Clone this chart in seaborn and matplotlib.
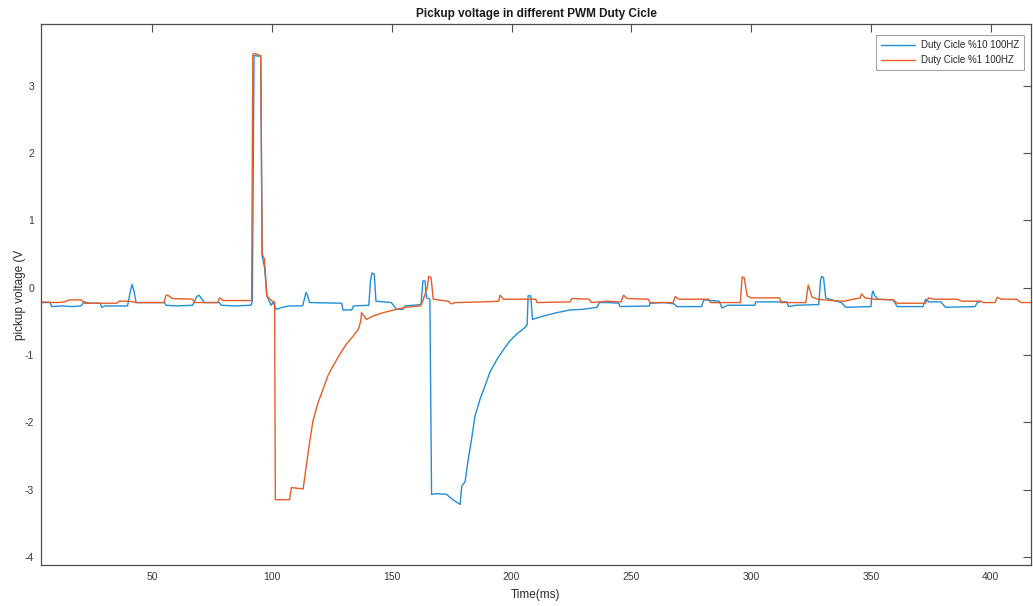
import numpy as np
import pandas as pd
import matplotlib
matplotlib.use("Agg")
import matplotlib.pyplot as plt
import seaborn as sns
from matplotlib.lines import Line2D

# ---------------- data ----------------
series_names = ["Duty Cicle %10 100HZ", "Duty Cicle %1 100HZ"]

blue_t = [3.6, 7.5, 8.0, 12.4, 16.4, 20.3, 21.6, 22.8, 24.3, 28.3, 28.9, 30.2, 39.7, 40.9,
          41.6, 42.4, 43.3, 55.1, 55.8, 59.9, 66.9, 68.6, 69.5, 70.4, 71.8, 78.1, 78.7, 84.6,
          91.3, 91.8, 92.5, 95.3, 95.9, 96.9, 97.9, 98.6, 99.6, 100.4, 101.8, 104.4, 107.3,
          112.8, 113.7, 114.2, 114.9, 115.7, 129.1, 129.6, 133.3, 134.0, 140.4, 141.1, 141.7,
          142.7, 143.4, 149.8, 151.1, 152.0, 154.7, 155.5, 162.2, 163.0, 163.9, 164.5, 165.9,
          166.6, 168.6, 172.8, 175.5, 178.5, 179.2, 180.6, 181.9, 183.3, 184.7, 186.8, 188.9,
          190.9, 193.8, 196.6, 199.3, 202.1, 205.6, 206.5, 206.9, 208.0, 208.7, 213.3, 218.9,
          224.4, 230.0, 235.6, 236.7, 240.7, 244.7, 245.3, 257.5, 257.8, 263.5, 267.9, 269.0,
          279.3, 280.2, 286.7, 287.8, 290.2, 301.5, 301.9, 314.9, 315.6, 318.8, 328.2, 328.9,
          329.4, 330.2, 331.1, 332.7, 337.6, 339.5, 350.0, 350.4, 350.8, 351.6, 352.9, 359.3,
          360.9, 371.7, 372.8, 374.2, 379.1, 381.1, 393.4, 394.7, 395.4]
blue_v = [-0.22, -0.22, -0.28, -0.27, -0.28, -0.27, -0.21, -0.22, -0.23, -0.23, -0.29, -0.27,
          -0.27, -0.05, 0.05, -0.05, -0.22, -0.22, -0.26, -0.27, -0.26, -0.13, -0.11, -0.15,
          -0.22, -0.22, -0.26, -0.27, -0.26, -0.20, 3.45, 3.44, 0.47, 0.30, -0.12, -0.18,
          -0.26, -0.22, -0.32, -0.29, -0.27, -0.27, -0.14, -0.07, -0.12, -0.22, -0.23, -0.33,
          -0.33, -0.27, -0.26, 0.10, 0.22, 0.20, -0.20, -0.22, -0.28, -0.32, -0.32, -0.27,
          -0.25, 0.10, 0.10, -0.15, -0.17, -3.07, -3.06, -3.07, -3.15, -3.22, -2.95, -2.88,
          -2.55, -2.25, -1.91, -1.66, -1.46, -1.26, -1.07, -0.92, -0.79, -0.69, -0.59, -0.55,
          -0.12, -0.12, -0.47, -0.42, -0.37, -0.33, -0.32, -0.29, -0.22, -0.22, -0.23, -0.28,
          -0.27, -0.23, -0.22, -0.24, -0.28, -0.28, -0.18, -0.20, -0.30, -0.26, -0.26, -0.21,
          -0.21, -0.28, -0.26, -0.25, 0.10, 0.17, 0.15, -0.15, -0.17, -0.22, -0.29, -0.28,
          -0.10, -0.05, -0.12, -0.17, -0.18, -0.28, -0.28, -0.17, -0.21, -0.21, -0.29, -0.28,
          -0.20, -0.22]

orange_t = [3.6, 10.5, 13.4, 15.4, 20.4, 21.8, 35.2, 36.2, 40.1, 42.1, 43.1, 54.9, 55.8, 56.9,
            58.4, 66.8, 67.8, 77.2, 78.2, 79.6, 91.5, 92.0, 92.8, 95.3, 95.9, 96.9, 97.8, 98.6,
            100.1, 101.1, 101.4, 107.3, 108.1, 113.0, 114.3, 115.7, 117.1, 119.2, 121.3, 123.3,
            125.5, 128.3, 131.0, 133.8, 136.0, 137.0, 137.4, 139.4, 142.2, 146.4, 152.0, 156.2,
            161.7, 162.5, 164.8, 165.4, 166.4, 167.3, 173.5, 174.9, 176.5, 188.4, 194.6, 195.2,
            196.6, 210.1, 210.6, 224.4, 225.1, 232.3, 233.4, 239.8, 245.7, 246.7, 248.2, 257.0,
            257.8, 267.4, 268.3, 269.9, 282.3, 283.0, 295.5, 296.2, 297.1, 298.3, 300.0, 311.9,
            312.4, 322.8, 323.8, 325.4, 327.7, 333.6, 338.6, 345.5, 346.1, 347.5, 351.4, 359.3,
            360.9, 372.7, 374.1, 376.1, 386.0, 388.0, 395.9, 396.9, 401.8, 402.7, 404.3, 410.7,
            412.6, 417.1]
orange_v = [-0.21, -0.22, -0.21, -0.18, -0.18, -0.23, -0.23, -0.20, -0.20, -0.21, -0.22, -0.22,
            -0.11, -0.12, -0.16, -0.17, -0.22, -0.22, -0.15, -0.19, -0.19, 3.47, 3.48, 3.45,
            0.50, 0.42, -0.12, -0.15, -0.20, -0.21, -3.15, -3.15, -2.97, -2.99, -2.65, -2.30,
            -1.98, -1.71, -1.51, -1.31, -1.16, -0.99, -0.84, -0.72, -0.62, -0.50, -0.37,
            -0.47, -0.42, -0.37, -0.32, -0.29, -0.27, -0.24, 0.00, 0.17, 0.15, -0.17, -0.20,
            -0.24, -0.22, -0.21, -0.20, -0.11, -0.17, -0.17, -0.22, -0.21, -0.16, -0.17,
            -0.22, -0.20, -0.21, -0.11, -0.16, -0.17, -0.22, -0.22, -0.13, -0.17, -0.17,
            -0.22, -0.22, 0.16, 0.15, -0.12, -0.15, -0.15, -0.22, -0.22, 0.04, -0.14, -0.17,
            -0.19, -0.20, -0.15, -0.09, -0.15, -0.17, -0.18, -0.23, -0.23, -0.15, -0.17,
            -0.17, -0.20, -0.20, -0.22, -0.22, -0.14, -0.17, -0.17, -0.22, -0.22]

x_ticks = [50, 100, 150, 200, 250, 300, 350, 400]
y_ticks = [-4, -3, -2, -1, 0, 1, 2, 3]
title_text = "Pickup voltage in different PWM Duty Cicle"
xlabel_text = "Time(ms)"
ylabel_text = "pickup voltage (V"

# ---------------- build long-form table ----------------
df = pd.concat([
    pd.DataFrame({"t": blue_t, "v": blue_v, "series": series_names[0]}),
    pd.DataFrame({"t": orange_t, "v": orange_v, "series": series_names[1]}),
], ignore_index=True)

sns.set_style("white")
plt.rcParams["font.family"] = ["Liberation Sans", "DejaVu Sans"]
plt.rcParams["axes.unicode_minus"] = False

fig = plt.figure(figsize=(10.33, 6.06), dpi=100)
ax = fig.add_axes([0.0397, 0.0677, 0.9584, 0.8927])

palette = {series_names[0]: "#1f8fd6", series_names[1]: "#e85c27"}
sns.lineplot(data=df, x="t", y="v", hue="series", palette=palette, estimator=None,
             sort=False, linewidth=1.0, ax=ax, legend=False)

ax.set_xlim(3.6, 416.8)
ax.set_ylim(-4.12, 3.92)
ax.set_xticks(x_ticks)
ax.set_yticks(y_ticks)

axc = "#4d4d4d"
for s in ax.spines.values():
    s.set_color(axc)
    s.set_linewidth(0.9)
ax.tick_params(direction="in", length=6, width=0.8, colors=axc, labelsize=7.5,
               top=True, right=True, labelcolor="#3a3a3a", pad=5)

ax.set_title(title_text, fontsize=8.5, fontweight="bold", color="#1a1a1a", pad=5)
ax.set_xlabel(xlabel_text, fontsize=8.5, color="#2a2a2a", labelpad=5)
ax.set_ylabel(ylabel_text, fontsize=8.5, color="#2a2a2a", labelpad=-1)

handles = [Line2D([0], [0], color=palette[n], lw=1.0) for n in series_names]
leg = ax.legend(handles, series_names, loc="upper right", fontsize=7.0, frameon=True,
                fancybox=False, edgecolor="#8c8c8c", handlelength=3.5, handletextpad=0.6,
                borderpad=0.5, bbox_to_anchor=(0.9975, 0.988))
leg.get_frame().set_linewidth(0.8)

fig.savefig("out.png", dpi=100)
